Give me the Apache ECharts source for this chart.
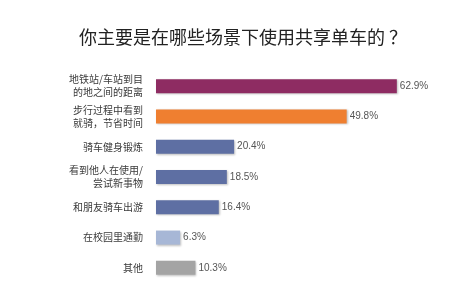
<!DOCTYPE html>
<html>
<head>
<meta charset="utf-8">
<script src="https://cdn.jsdelivr.net/npm/echarts@6/dist/echarts.min.js"></script>
<style>
  html, body { margin: 0; padding: 0; background: #fff; }
  #chart { width: 456px; height: 288px; }
</style>
</head>
<body>
<div id="chart"></div>
<script>
// 场景
const categories = [
  "地铁站/车站到目\n的地之间的距离",
  "步行过程中看到\n就骑，节省时间",
  "骑车健身锻炼",
  "看到他人在使用/\n尝试新事物",
  "和朋友骑车出游",
  "在校园里通勤",
  "其他"
];
const values = [62.9, 49.8, 20.4, 18.5, 16.4, 6.3, 10.3];

const barColors = ["#8e2c62", "#ef7f30", "#5e6fa3", "#5e6fa3", "#5e6fa3", "#a7b7d6", "#a4a4a4"];

const chart = echarts.init(document.getElementById("chart"));

const option = {
  backgroundColor: "#fff",
  animation: false,
  title: {
    text: "你主要是在哪些场景下使用共享单车的 ？",
    left: 74,
    top: 23,
    textStyle: {
      fontFamily: "Noto Sans CJK SC",
      fontSize: 18,
      fontWeight: "normal",
      color: "#222",
    },
  },
  grid: {
    left: 156,
    right: 32,
    top: 71,
    height: 212,
  },
  xAxis: {
    type: "value",
    min: 0,
    max: 70,
    show: false,
  },
  yAxis: {
    type: "category",
    inverse: true,
    data: categories,
    axisLine: { show: false },
    axisTick: { show: false },
    axisLabel: {
      margin: 13,
      fontFamily: "Noto Sans CJK SC",
      fontSize: 10,
      lineHeight: 13,
      color: "#3a3a3a",
      align: "right",
    },
  },
  series: [
    {
      type: "bar",
      barWidth: 14,
      data: values.map((v, i) => ({
        value: v,
        itemStyle: { color: barColors[i] },
      })),
      itemStyle: {
        shadowColor: "rgba(0,0,0,0.25)",
        shadowBlur: 2,
        shadowOffsetX: 1,
        shadowOffsetY: 1,
      },
      label: {
        show: true,
        position: "right",
        distance: 3,
        formatter: (p) => p.value.toFixed(1) + "%",
        fontFamily: "Liberation Sans",
        fontSize: 10,
        color: "#555",
      },
    },
  ],
};

chart.setOption(option);
</script>
</body>
</html>
